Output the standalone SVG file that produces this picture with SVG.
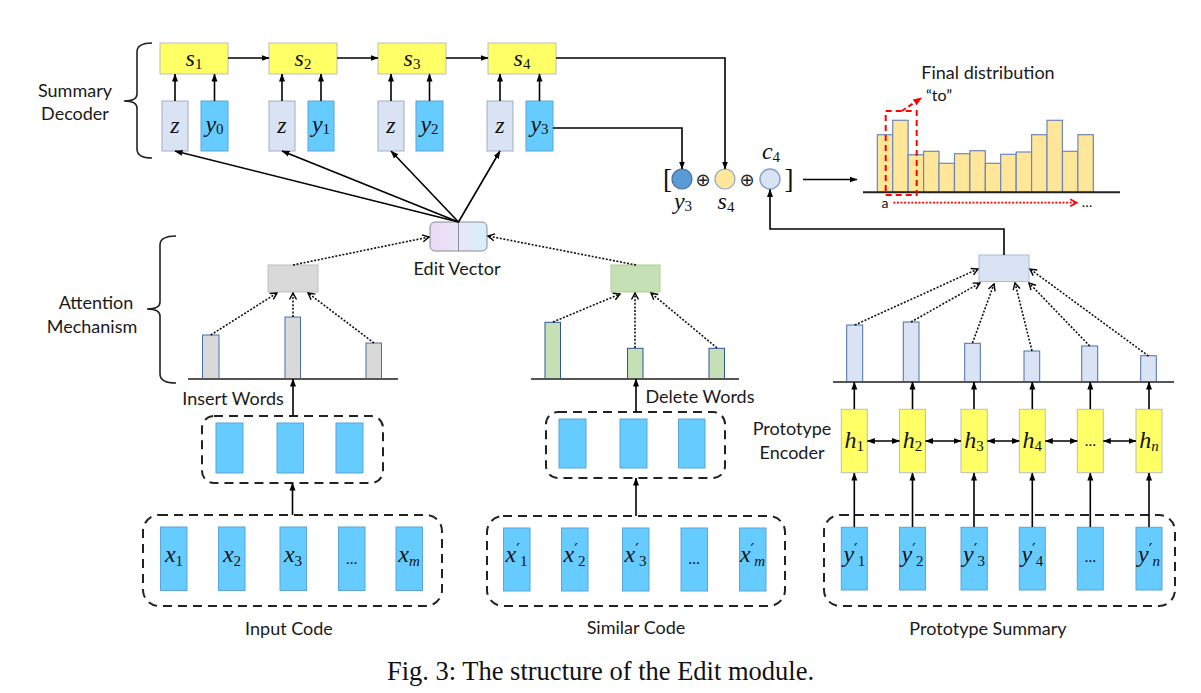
<svg xmlns="http://www.w3.org/2000/svg" width="1201" height="693" viewBox="0 0 1201 693">
<defs>
<style>
.lbl{font-family:Lato,"Liberation Sans",sans-serif;font-size:18px;fill:#1a1a1a}
.m{font-family:"Liberation Serif","DejaVu Serif",serif;font-style:italic;font-size:24px;fill:#111}
.sub{font-style:normal;font-size:15px}
.isub{font-style:italic;font-size:15px}
.pr{font-family:"DejaVu Sans",sans-serif;font-style:normal;font-size:16px}
.dots{font-family:Lato,"Liberation Sans",sans-serif;font-size:15px;fill:#111}
.yel{fill:#ffff66;stroke:#bdbdbd;stroke-width:1}
.blu{fill:#66ccff;stroke:#59a5d5;stroke-width:1}
.zb{fill:#dae3f3;stroke:#9fadc5;stroke-width:1}
.ln{stroke:#000;stroke-width:1.6;fill:none}
.dot{stroke:#111;stroke-width:1.6;fill:none;stroke-dasharray:2 1.6}
.dash{fill:none;stroke:#222;stroke-width:2;stroke-dasharray:9 6}
.axis{stroke:#555;stroke-width:2}
.gbar{fill:#d9d9d9;stroke:#4a6fa5;stroke-width:1}
.grbar{fill:#c5e0b4;stroke:#2f5597;stroke-width:1}
.pbar{fill:#dae3f3;stroke:#4a6fa5;stroke-width:1}
.dbar{fill:#ffe699;stroke:#6d87b8;stroke-width:1.2}
.brace{fill:none;stroke:#222;stroke-width:1.6}
</style>
<marker id="arr" markerUnits="userSpaceOnUse" markerWidth="8" markerHeight="8" viewBox="0 0 8 8" refX="7.5" refY="4" orient="auto"><path d="M0,1 L8,4 L0,7 z" fill="#000"/></marker>
<marker id="arr2" markerUnits="userSpaceOnUse" markerWidth="8" markerHeight="8" viewBox="0 0 8 8" refX="7.5" refY="4" orient="auto-start-reverse"><path d="M0,1 L8,4 L0,7 z" fill="#000"/></marker>
<marker id="chev" markerUnits="userSpaceOnUse" markerWidth="10" markerHeight="10" viewBox="0 0 10 10" refX="8.5" refY="5" orient="auto"><path d="M2,1.5 L8.5,5 L2,8.5" fill="none" stroke="#000" stroke-width="1.4"/></marker>
<marker id="rarr" markerUnits="userSpaceOnUse" markerWidth="9" markerHeight="9" viewBox="0 0 8 8" refX="7.5" refY="4" orient="auto"><path d="M0,1 L8,4 L0,7 z" fill="#ff0000"/></marker>
<marker id="rchev" markerUnits="userSpaceOnUse" markerWidth="10" markerHeight="10" viewBox="0 0 10 10" refX="8.5" refY="5" orient="auto"><path d="M2,1.5 L8.5,5 L2,8.5" fill="none" stroke="#ff0000" stroke-width="1.6"/></marker>
<linearGradient id="evg" x1="0" y1="0" x2="1" y2="0">
<stop offset="0" stop-color="#ead9f5"/><stop offset="0.5" stop-color="#e9e6f8"/><stop offset="1" stop-color="#d6f0fb"/>
</linearGradient>
</defs>
<rect width="1201" height="693" fill="#fff"/>

<g id="summary-decoder-label">
<path class="brace" d="M152,43 Q137,43 137,52 L137,94 Q137,101 124,101 Q137,101 137,108 L137,149 Q137,158 152,158"/>
<text class="lbl" x="75" y="97" text-anchor="middle">Summary</text>
<text class="lbl" x="75" y="120" text-anchor="middle">Decoder</text>
</g>
<g id="attention-label">
<path class="brace" d="M176,236 Q160,236 160,245 L160,302 Q160,309 147,309 Q160,309 160,316 L160,374 Q160,383 176,383"/>
<text class="lbl" x="96" y="309" text-anchor="middle">Attention</text>
<text class="lbl" x="92" y="333" text-anchor="middle">Mechanism</text>
</g>

<g id="s1"><rect class="yel" x="160" y="43" width="68" height="31"/><text class="m" x="194" y="66" text-anchor="middle">s<tspan class="sub" dy="3">1</tspan></text></g>
<g id="s2"><rect class="yel" x="269" y="43" width="68" height="31"/><text class="m" x="303" y="66" text-anchor="middle">s<tspan class="sub" dy="3">2</tspan></text></g>
<g id="s3"><rect class="yel" x="378" y="43" width="68" height="31"/><text class="m" x="412" y="66" text-anchor="middle">s<tspan class="sub" dy="3">3</tspan></text></g>
<g id="s4"><rect class="yel" x="488" y="43" width="68" height="31"/><text class="m" x="522" y="66" text-anchor="middle">s<tspan class="sub" dy="3">4</tspan></text></g>

<g id="z1"><rect class="zb" x="162" y="101" width="26" height="50"/><text class="m" x="175" y="133" text-anchor="middle">z</text></g>
<g id="y0"><rect class="blu" x="201" y="101" width="27" height="50"/><text class="m" x="214.5" y="132" text-anchor="middle">y<tspan class="sub" dy="2">0</tspan></text></g>
<g id="z2"><rect class="zb" x="269" y="101" width="26" height="50"/><text class="m" x="282" y="133" text-anchor="middle">z</text></g>
<g id="y1"><rect class="blu" x="308" y="101" width="26" height="50"/><text class="m" x="321" y="132" text-anchor="middle">y<tspan class="sub" dy="2">1</tspan></text></g>
<g id="z3"><rect class="zb" x="378" y="101" width="26" height="50"/><text class="m" x="391" y="133" text-anchor="middle">z</text></g>
<g id="y2"><rect class="blu" x="416" y="101" width="27" height="50"/><text class="m" x="429.5" y="132" text-anchor="middle">y<tspan class="sub" dy="2">2</tspan></text></g>
<g id="z4"><rect class="zb" x="487" y="101" width="26" height="50"/><text class="m" x="500" y="133" text-anchor="middle">z</text></g>
<g id="y3"><rect class="blu" x="526" y="101" width="27" height="50"/><text class="m" x="539.5" y="132" text-anchor="middle">y<tspan class="sub" dy="2">3</tspan></text></g>

<g id="edit-vector">
<rect x="430" y="222" width="57" height="29" rx="5" fill="url(#evg)" stroke="#8a8a9a" stroke-width="1"/>
<line x1="458.5" y1="222" x2="458.5" y2="251" stroke="#8a8a9a" stroke-width="1"/>
<text class="lbl" x="457" y="275" text-anchor="middle">Edit Vector</text>
</g>

<g id="concat">
<text x="667.5" y="188" font-family="'Liberation Serif',serif" font-size="27" text-anchor="middle" fill="#111">[</text>
<circle cx="682" cy="179" r="10" fill="#5b9bd5" stroke="#41719c" stroke-width="1.2"/>
<text x="703" y="185.5" font-family="'DejaVu Sans',sans-serif" font-size="18" text-anchor="middle" fill="#222">⊕</text>
<circle cx="725" cy="179" r="10" fill="#ffe699" stroke="#8fa5cf" stroke-width="1.2"/>
<text x="747" y="185.5" font-family="'DejaVu Sans',sans-serif" font-size="18" text-anchor="middle" fill="#222">⊕</text>
<circle cx="770" cy="179" r="10" fill="#dae3f3" stroke="#7f9fd0" stroke-width="1.4"/>
<text x="789" y="188" font-family="'Liberation Serif',serif" font-size="27" text-anchor="middle" fill="#111">]</text>
<text class="m" x="683" y="209" text-anchor="middle">y<tspan class="sub" dy="2">3</tspan></text>
<text class="m" x="726" y="209" text-anchor="middle">s<tspan class="sub" dy="3">4</tspan></text>
<text class="m" x="771" y="159" text-anchor="middle">c<tspan class="sub" dy="3">4</tspan></text>
</g>

<g id="final-distribution">
<text class="lbl" x="988" y="79" text-anchor="middle" font-size="18.5">Final distribution</text>
<rect class="dbar" x="877.3" y="134.7" width="15.43" height="57.6"/>
<rect class="dbar" x="892.7" y="120.3" width="15.43" height="72"/>
<rect class="dbar" x="908.2" y="154.7" width="15.43" height="37.6"/>
<rect class="dbar" x="923.6" y="151.3" width="15.43" height="41"/>
<rect class="dbar" x="939" y="163.3" width="15.43" height="29"/>
<rect class="dbar" x="954.5" y="153.7" width="15.43" height="38.6"/>
<rect class="dbar" x="969.9" y="150.7" width="15.43" height="41.6"/>
<rect class="dbar" x="985.3" y="163.3" width="15.43" height="29"/>
<rect class="dbar" x="1000.7" y="154.3" width="15.43" height="38"/>
<rect class="dbar" x="1016.2" y="152" width="15.43" height="40.3"/>
<rect class="dbar" x="1031.6" y="134.7" width="15.43" height="57.6"/>
<rect class="dbar" x="1047" y="120.3" width="15.43" height="72"/>
<rect class="dbar" x="1062.5" y="151.3" width="15.43" height="41"/>
<rect class="dbar" x="1077.9" y="134.7" width="15.43" height="57.6"/>
<line x1="863" y1="192.3" x2="1120" y2="192.3" stroke="#222" stroke-width="2"/>
<rect x="885.7" y="111" width="31" height="84" fill="none" stroke="#ff0000" stroke-width="2" stroke-dasharray="6 4"/>
<line x1="901.7" y1="111" x2="921.7" y2="97.7" stroke="#ff0000" stroke-width="2" stroke-dasharray="5 3" marker-end="url(#rarr)"/>
<text x="926" y="101" font-family="Lato,'Liberation Sans',sans-serif" font-size="16" fill="#111">“to”</text>
<text x="885" y="208.3" font-family="Lato,'Liberation Sans',sans-serif" font-size="14" fill="#111" text-anchor="middle">a</text>
<line x1="893.3" y1="202.7" x2="1076.7" y2="202.7" stroke="#ff0000" stroke-width="1.8" stroke-dasharray="2 1.6" marker-end="url(#rchev)"/>
<text x="1081.7" y="207" font-family="Lato,'Liberation Sans',sans-serif" font-size="14" fill="#111">…</text>
</g>

<g id="insert-attention">
<rect x="268" y="265" width="50" height="27" fill="#d9d9d9" stroke="#bfbfbf" stroke-width="1"/>
<rect class="gbar" x="202.5" y="335" width="16.5" height="44"/>
<rect class="gbar" x="285" y="317" width="15.5" height="62"/>
<rect class="gbar" x="366" y="343" width="15.5" height="36"/>
<line class="axis" x1="188" y1="379" x2="398" y2="379"/>
<text class="lbl" x="233" y="405" text-anchor="middle">Insert Words</text>
</g>
<g id="insert-words">
<rect class="dash" x="202" y="416" width="181" height="67" rx="12"/>
<rect class="blu" x="216" y="423" width="27" height="50"/>
<rect class="blu" x="277" y="423" width="26.5" height="50"/>
<rect class="blu" x="336" y="423" width="27" height="50"/>
</g>
<g id="input-code">
<rect class="dash" x="143" y="515" width="299" height="91" rx="16"/>
<rect class="blu" x="160.5" y="527" width="26.5" height="63.5"/><text class="m" x="174" y="562" text-anchor="middle">x<tspan class="sub" dy="4">1</tspan></text>
<rect class="blu" x="218.5" y="527" width="26.5" height="63.5"/><text class="m" x="232" y="562" text-anchor="middle">x<tspan class="sub" dy="4">2</tspan></text>
<rect class="blu" x="280" y="527" width="26.5" height="63.5"/><text class="m" x="293" y="562" text-anchor="middle">x<tspan class="sub" dy="4">3</tspan></text>
<rect class="blu" x="338.5" y="527" width="26.5" height="63.5"/><text class="dots" x="351.5" y="564" text-anchor="middle">…</text>
<rect class="blu" x="396" y="527" width="26.5" height="63.5"/><text class="m" x="409" y="562" text-anchor="middle">x<tspan class="isub" dy="4">m</tspan></text>
<text class="lbl" x="289" y="635" text-anchor="middle">Input Code</text>
</g>

<g id="delete-attention">
<rect x="611" y="265" width="49" height="27" fill="#c5e0b4" stroke="#a9d18e" stroke-width="1"/>
<rect class="grbar" x="545" y="322.3" width="15.5" height="56.7"/>
<rect class="grbar" x="627.5" y="348.3" width="15.5" height="30.7"/>
<rect class="grbar" x="709" y="348.3" width="15.5" height="30.7"/>
<line class="axis" x1="531" y1="379" x2="739" y2="379"/>
<text class="lbl" x="700" y="403" text-anchor="middle">Delete Words</text>
</g>
<g id="delete-words">
<rect class="dash" x="546" y="412" width="179" height="66" rx="12"/>
<rect class="blu" x="559" y="419" width="27" height="49"/>
<rect class="blu" x="620" y="419" width="27" height="49"/>
<rect class="blu" x="678.5" y="419" width="26.5" height="49"/>
</g>
<g id="similar-code">
<rect class="dash" x="487" y="516" width="298" height="90" rx="16"/>
<rect class="blu" x="503.5" y="528" width="26.5" height="63"/><text class="m" x="516.5" y="562" text-anchor="middle">x<tspan class="pr" dy="-7">′</tspan><tspan class="sub" dy="11">1</tspan></text>
<rect class="blu" x="561.5" y="528" width="26.5" height="63"/><text class="m" x="574.5" y="562" text-anchor="middle">x<tspan class="pr" dy="-7">′</tspan><tspan class="sub" dy="11">2</tspan></text>
<rect class="blu" x="622.5" y="528" width="26.5" height="63"/><text class="m" x="635.5" y="562" text-anchor="middle">x<tspan class="pr" dy="-7">′</tspan><tspan class="sub" dy="11">3</tspan></text>
<rect class="blu" x="681" y="528" width="26.5" height="63"/><text class="dots" x="694" y="564" text-anchor="middle">…</text>
<rect class="blu" x="739.5" y="528" width="26.5" height="63"/><text class="m" x="752.5" y="562" text-anchor="middle">x<tspan class="pr" dy="-7">′</tspan><tspan class="isub" dy="11">m</tspan></text>
<text class="lbl" x="636" y="634" text-anchor="middle">Similar Code</text>
</g>

<g id="prototype-attention">
<rect x="979" y="255" width="50" height="26.5" fill="#dae3f3" stroke="#a9bcd6" stroke-width="1"/>
<rect class="pbar" x="846.7" y="325" width="16" height="57"/>
<rect class="pbar" x="903.3" y="322" width="15.7" height="60"/>
<rect class="pbar" x="964.7" y="343.3" width="15.6" height="38.7"/>
<rect class="pbar" x="1024" y="351" width="15.7" height="31"/>
<rect class="pbar" x="1081.7" y="346" width="16" height="36"/>
<rect class="pbar" x="1140.7" y="355.7" width="15.6" height="26.3"/>
<line class="axis" x1="833" y1="382" x2="1174" y2="382"/>
</g>
<g id="prototype-encoder">
<text class="lbl" x="792" y="435" text-anchor="middle">Prototype</text>
<text class="lbl" x="792" y="459" text-anchor="middle">Encoder</text>
<rect class="yel" x="841.3" y="409.3" width="26" height="63.4"/><text class="m" x="854.3" y="448" text-anchor="middle">h<tspan class="sub" dy="3">1</tspan></text>
<rect class="yel" x="899.5" y="409.3" width="26" height="63.4"/><text class="m" x="912.5" y="448" text-anchor="middle">h<tspan class="sub" dy="3">2</tspan></text>
<rect class="yel" x="961" y="409.3" width="26.3" height="63.4"/><text class="m" x="974" y="448" text-anchor="middle">h<tspan class="sub" dy="3">3</tspan></text>
<rect class="yel" x="1019.3" y="409.3" width="26" height="63.4"/><text class="m" x="1032.3" y="448" text-anchor="middle">h<tspan class="sub" dy="3">4</tspan></text>
<rect class="yel" x="1077.3" y="409.3" width="26" height="63.4"/><text class="dots" x="1090.3" y="446" text-anchor="middle">…</text>
<rect class="yel" x="1136" y="409.3" width="26" height="63.4"/><text class="m" x="1149" y="448" text-anchor="middle">h<tspan class="isub" dy="3">n</tspan></text>
</g>
<g id="prototype-summary">
<rect class="dash" x="824" y="515" width="351" height="91" rx="16"/>
<rect class="blu" x="841.3" y="527.3" width="26" height="62.7"/><text class="m" x="854.3" y="562" text-anchor="middle">y<tspan class="pr" dy="-7">′</tspan><tspan class="sub" dy="11">1</tspan></text>
<rect class="blu" x="899.5" y="527.3" width="26" height="62.7"/><text class="m" x="912.5" y="562" text-anchor="middle">y<tspan class="pr" dy="-7">′</tspan><tspan class="sub" dy="11">2</tspan></text>
<rect class="blu" x="961" y="527.3" width="26.3" height="62.7"/><text class="m" x="974" y="562" text-anchor="middle">y<tspan class="pr" dy="-7">′</tspan><tspan class="sub" dy="11">3</tspan></text>
<rect class="blu" x="1019.3" y="527.3" width="26" height="62.7"/><text class="m" x="1032.3" y="562" text-anchor="middle">y<tspan class="pr" dy="-7">′</tspan><tspan class="sub" dy="11">4</tspan></text>
<rect class="blu" x="1077.3" y="527.3" width="26" height="62.7"/><text class="dots" x="1090.3" y="562" text-anchor="middle">…</text>
<rect class="blu" x="1136" y="527.3" width="26" height="62.7"/><text class="m" x="1149" y="562" text-anchor="middle">y<tspan class="pr" dy="-7">′</tspan><tspan class="isub" dy="11">n</tspan></text>
<text class="lbl" x="988" y="635" text-anchor="middle">Prototype Summary</text>
</g>

<g id="connectors">
<line class="ln" x1="228" y1="58" x2="269" y2="58" marker-end="url(#arr)"/>
<line class="ln" x1="337" y1="58" x2="378" y2="58" marker-end="url(#arr)"/>
<line class="ln" x1="446" y1="58" x2="488" y2="58" marker-end="url(#arr)"/>
<polyline class="ln" points="556,58 725,58 725,169" marker-end="url(#arr)"/>
<polyline class="ln" points="553,128 682,128 682,169" marker-end="url(#arr)"/>
<line class="ln" x1="175" y1="101" x2="175" y2="74" marker-end="url(#arr)"/>
<line class="ln" x1="214.5" y1="101" x2="214.5" y2="74" marker-end="url(#arr)"/>
<line class="ln" x1="282" y1="101" x2="282" y2="74" marker-end="url(#arr)"/>
<line class="ln" x1="321" y1="101" x2="321" y2="74" marker-end="url(#arr)"/>
<line class="ln" x1="391" y1="101" x2="391" y2="74" marker-end="url(#arr)"/>
<line class="ln" x1="429.5" y1="101" x2="429.5" y2="74" marker-end="url(#arr)"/>
<line class="ln" x1="500" y1="101" x2="500" y2="74" marker-end="url(#arr)"/>
<line class="ln" x1="539.5" y1="101" x2="539.5" y2="74" marker-end="url(#arr)"/>
<line class="ln" x1="458.5" y1="222" x2="175" y2="151" marker-end="url(#arr)"/>
<line class="ln" x1="458.5" y1="222" x2="282" y2="151" marker-end="url(#arr)"/>
<line class="ln" x1="458.5" y1="222" x2="391" y2="151" marker-end="url(#arr)"/>
<line class="ln" x1="458.5" y1="222" x2="500" y2="151" marker-end="url(#arr)"/>
<line class="ln" x1="803" y1="179.5" x2="857" y2="179.5" marker-end="url(#arr)"/>
<polyline class="ln" points="1004,255 1004,229 770,229 770,189.5" marker-end="url(#arr)"/>
<line class="dot" x1="210.7" y1="335" x2="277" y2="293" marker-end="url(#chev)"/>
<line class="dot" x1="293" y1="317" x2="293" y2="293" marker-end="url(#chev)"/>
<line class="dot" x1="374" y1="343" x2="308" y2="293" marker-end="url(#chev)"/>
<line class="dot" x1="293" y1="265" x2="429" y2="237" marker-end="url(#chev)"/>
<line class="ln" x1="293" y1="416" x2="293" y2="379" marker-end="url(#arr)"/>
<line class="ln" x1="292.5" y1="515" x2="292.5" y2="483" marker-end="url(#arr)"/>
<line class="dot" x1="553" y1="322" x2="620" y2="294" marker-end="url(#chev)"/>
<line class="dot" x1="635" y1="348" x2="635" y2="293" marker-end="url(#chev)"/>
<line class="dot" x1="717" y1="348" x2="651" y2="293" marker-end="url(#chev)"/>
<line class="dot" x1="636" y1="265" x2="488" y2="236" marker-end="url(#chev)"/>
<line class="ln" x1="636" y1="412" x2="636" y2="379" marker-end="url(#arr)"/>
<line class="ln" x1="636" y1="516" x2="636" y2="478" marker-end="url(#arr)"/>
<line class="dot" x1="854.7" y1="325" x2="978" y2="269" marker-end="url(#chev)"/>
<line class="dot" x1="911" y1="322" x2="980" y2="283" marker-end="url(#chev)"/>
<line class="dot" x1="972.5" y1="343" x2="994" y2="284" marker-end="url(#chev)"/>
<line class="dot" x1="1032" y1="351" x2="1015" y2="283" marker-end="url(#chev)"/>
<line class="dot" x1="1089.7" y1="346" x2="1029" y2="283" marker-end="url(#chev)"/>
<line class="dot" x1="1148.5" y1="356" x2="1030" y2="269" marker-end="url(#chev)"/>
<line class="ln" x1="854.3" y1="409" x2="854.3" y2="382" marker-end="url(#arr)"/>
<line class="ln" x1="912.5" y1="409" x2="912.5" y2="382" marker-end="url(#arr)"/>
<line class="ln" x1="974" y1="409" x2="974" y2="382" marker-end="url(#arr)"/>
<line class="ln" x1="1032.3" y1="409" x2="1032.3" y2="382" marker-end="url(#arr)"/>
<line class="ln" x1="1090.3" y1="409" x2="1090.3" y2="382" marker-end="url(#arr)"/>
<line class="ln" x1="1149" y1="409" x2="1149" y2="382" marker-end="url(#arr)"/>
<line class="ln" x1="867.3" y1="441" x2="899.5" y2="441" marker-start="url(#arr2)" marker-end="url(#arr2)"/>
<line class="ln" x1="925.5" y1="441" x2="961" y2="441" marker-start="url(#arr2)" marker-end="url(#arr2)"/>
<line class="ln" x1="987.3" y1="441" x2="1019.3" y2="441" marker-start="url(#arr2)" marker-end="url(#arr2)"/>
<line class="ln" x1="1045.3" y1="441" x2="1077.3" y2="441" marker-start="url(#arr2)" marker-end="url(#arr2)"/>
<line class="ln" x1="1103.3" y1="441" x2="1136" y2="441" marker-start="url(#arr2)" marker-end="url(#arr2)"/>
<line class="ln" x1="854.3" y1="527" x2="854.3" y2="473" marker-end="url(#arr)"/>
<line class="ln" x1="912.5" y1="527" x2="912.5" y2="473" marker-end="url(#arr)"/>
<line class="ln" x1="974" y1="527" x2="974" y2="473" marker-end="url(#arr)"/>
<line class="ln" x1="1032.3" y1="527" x2="1032.3" y2="473" marker-end="url(#arr)"/>
<line class="ln" x1="1090.3" y1="527" x2="1090.3" y2="473" marker-end="url(#arr)"/>
<line class="ln" x1="1149" y1="527" x2="1149" y2="473" marker-end="url(#arr)"/>
</g>

<text x="600.5" y="680" font-family="'Liberation Serif',serif" font-size="26.5" text-anchor="middle" fill="#111">Fig. 3: The structure of the Edit module.</text>
</svg>
